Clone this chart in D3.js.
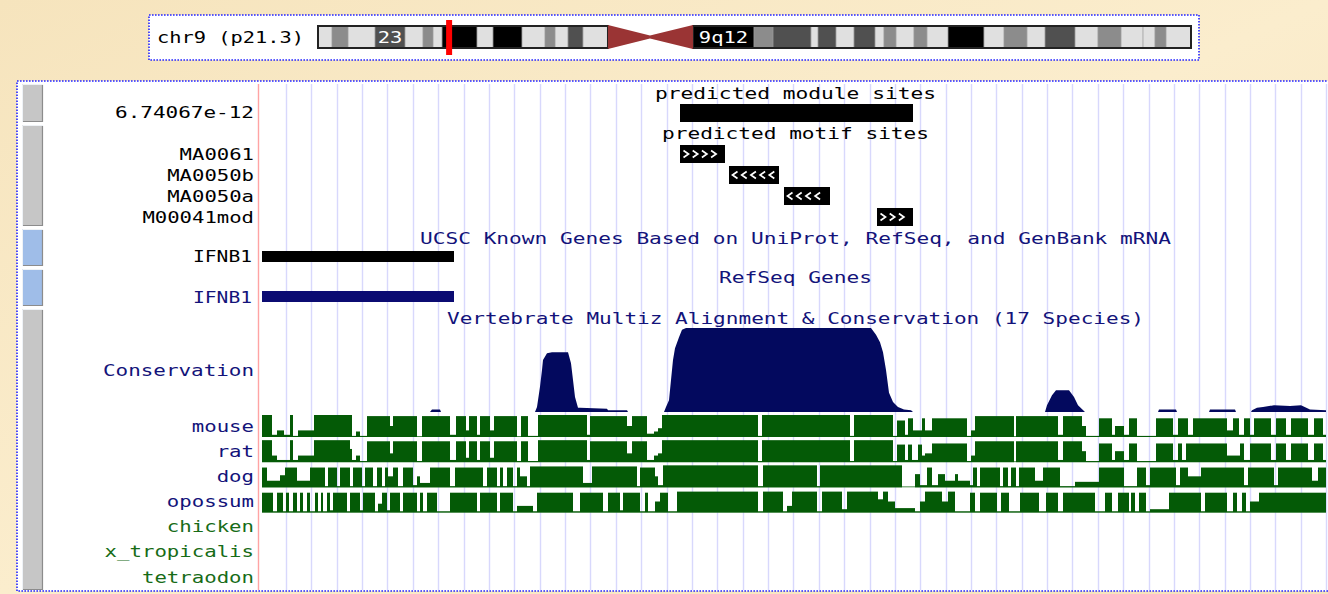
<!DOCTYPE html>
<html><head><meta charset="utf-8">
<script src="https://cdn.jsdelivr.net/npm/d3@7"></script>
<style>body{margin:0;background:#f8e8c6;} svg{display:block}</style>
</head><body><svg id="c" width="1328" height="594"></svg>
<script>
// ---------------- DATA ----------------
// region offsets in bp (0..1066) ; chromosome positions in Mb
const chromName = "chr9 (p21.3)";
const chromLengthMb = 140.29;
const markerMb = 21.07;
const bandStart = [0,2.25,4.82,9.16,13.98,16.87,18.48,19.93,25.55,28.12,32.78,36.48,38.09,40.17,42.58,
  60.26,70.06,73.12,79.22,80.35,83.24,86.13,89.51,90.95,92.88,95.77,97.86,101.24,107.02,110.24,113.93,116.83,121.65,125.34,129.04,132.57,134.50,136.27];
const bandEnd = [2.25,4.82,9.16,13.98,16.87,18.48,19.93,25.55,28.12,32.78,36.48,38.09,40.17,42.58,46.60,
  70.06,73.12,79.22,80.35,83.24,86.13,89.51,90.95,92.88,95.77,97.86,101.24,107.02,110.24,113.93,116.83,121.65,125.34,129.04,132.57,134.50,136.27,140.29];
const bandStain = ["gneg","gpos50","gneg","gpos75","gneg","gpos50","gneg","gpos100","gneg","gpos100","gneg","gpos50","gneg","gpos75","gneg",
  "gvar","gpos50","gpos75","gneg","gpos75","gneg","gpos75","gneg","gpos50","gneg","gpos50","gneg","gpos100","gneg","gpos50","gneg","gpos75","gneg","gpos50","gneg","gneg","gpos50","gneg"];
const bandLabel = ["","","","23","","","","","","","","","","","","9q12","","","","","","","","","","","","","","","","","","","","","",""];
const centromere = [46.60, 53.35, 60.26];

const moduleTitle = "predicted module sites";
const moduleScore = "6.74067e-12";
const moduleStart = [420];
const moduleEnd = [653];

const motifTitle = "predicted motif sites";
const motifNames = ["MA0061","MA0050b","MA0050a","M00041mod"];
const motifStart = [420,469,524,617];
const motifEnd = [465,519,570,653];
const motifStrand = ["+","-","-","+"];

const knownTitle = "UCSC Known Genes Based on UniProt, RefSeq, and GenBank mRNA";
const refseqTitle = "RefSeq Genes";
const geneName = "IFNB1";
const geneStart = 2, geneEnd = 194;

const consTitle = "Vertebrate Multiz Alignment & Conservation (17 Species)";
const consLabel = "Conservation";
const consPos = [0,170,172,180,181,275,277,280,282,283,287,292,308,311,313,315,318,320,347,348,367,368,
  404,406,409,411,413,415,419,422,426,611,616,620,623,626,629,633,638,644,651,653,
  785,787,792,796,809,814,818,825,898,899,916,917,949,950,975,976,991,992,997,1003,1014,1030,1041,1050,1066];
const consScore = [0,0,.03,.03,0,0,.06,.3,.5,.62,.7,.71,.71,.58,.38,.18,.05,.05,.04,.02,.02,0,
  0,.06,.14,.38,.62,.76,.89,.98,1,1,.92,.83,.71,.5,.23,.12,.06,.03,.02,0,
  0,.08,.2,.26,.26,.18,.08,0,0,.03,.03,0,0,.03,.03,0,0,.02,.05,.06,.08,.07,.08,.03,.02];

const speciesNames = ["mouse","rat","dog","opossum","chicken","x_tropicalis","tetraodon"];
const speciesGroup = ["mammal","mammal","mammal","mammal","other","other","other"];
// segments [start, end, fraction of track height]
const mouseAli = [[2,12,1],[12,17,.1],[17,24,.3],[24,30,.1],[30,33,1],[33,38,.05],[38,54,.3],[54,92,1],[92,96,.05],[96,100,.25],[100,107,.05],[107,130,.95],[130,133,.5],[133,157,.95],[157,162,0],[162,190,.95],[190,196,.1],[196,206,.95],[206,209,.3],[209,217,.95],[217,220,.1],[220,230,.95],[230,234,.3],[234,257,.95],[257,261,0],[261,268,.95],[268,278,.05],[278,327,1],[327,330,.1],[330,367,.95],[367,372,.5],[372,387,.95],[387,394,.15],[394,398,.25],[398,402,.4],[402,498,1],[498,502,.05],[502,590,1],[590,594,.05],[594,633,1],[633,637,.05],[637,645,.75],[645,648,.1],[648,653,.85],[653,662,.3],[662,665,.85],[665,672,.3],[672,707,.85],[707,711,.05],[711,715,.3],[715,754,.95],[754,756,0],[756,798,.95],[798,803,.1],[803,822,.95],[822,826,.5],[826,839,.05],[839,852,.85],[852,855,.1],[855,864,.5],[864,869,.1],[869,877,.85],[877,896,.05],[896,913,.85],[913,918,.1],[918,928,.85],[928,933,.1],[933,967,.85],[967,973,.3],[973,979,.85],[979,984,.1],[984,990,.85],[990,994,.1],[994,1011,.85],[1011,1016,.1],[1016,1026,.85],[1026,1031,.1],[1031,1048,.85],[1048,1054,.1],[1054,1063,.85],[1063,1066,.1]];
const ratAli = [[2,12,1],[12,17,.3],[17,24,.1],[24,30,.1],[30,33,1],[33,38,.1],[38,54,.3],[54,90,1],[90,92,.6],[92,96,.1],[96,100,.3],[100,107,.05],[107,130,.95],[130,133,.4],[133,157,.95],[157,162,.05],[162,190,.95],[190,196,.1],[196,206,.95],[206,209,.2],[209,217,.95],[217,220,.1],[220,230,.95],[230,234,.2],[234,257,.95],[257,261,.05],[261,268,.95],[268,278,.05],[278,327,1],[327,330,.1],[330,367,.95],[367,372,.4],[372,387,.95],[387,394,.1],[394,398,.3],[398,402,.4],[402,498,1],[498,502,.05],[502,590,1],[590,594,.05],[594,633,1],[633,637,.05],[637,645,.8],[645,648,.1],[648,652,.8],[652,658,.1],[658,662,.8],[662,665,.3],[665,672,.4],[672,707,.85],[707,711,.05],[711,715,.3],[715,754,.95],[754,756,0],[756,798,.95],[798,803,.1],[803,822,.95],[822,826,.5],[826,839,.05],[839,852,.85],[852,855,.1],[855,864,.5],[864,869,.1],[869,877,.85],[877,896,.05],[896,913,.85],[913,918,.1],[918,922,.85],[922,926,.1],[926,967,.85],[967,980,.3],[980,984,.85],[984,990,.1],[990,1011,.85],[1011,1016,.1],[1016,1026,.85],[1026,1031,.1],[1031,1048,.85],[1048,1054,.1],[1054,1063,.85],[1063,1066,.1]];
const dogAli = [[2,7,.9],[7,20,.3],[20,25,.55],[25,37,.9],[37,50,.3],[50,65,.9],[65,68,.05],[68,77,.9],[77,80,.05],[80,90,.9],[90,93,.05],[93,102,.9],[102,105,.05],[105,113,.9],[113,117,.05],[117,122,.9],[122,125,.05],[125,128,.9],[128,133,.5],[133,138,.9],[138,143,.05],[143,153,.9],[153,157,.1],[157,160,.5],[160,170,.2],[170,190,.9],[190,195,.05],[195,223,.9],[223,227,.05],[227,237,.9],[237,240,.05],[240,243,.9],[243,247,.05],[247,253,.9],[253,257,.05],[257,260,.9],[260,267,.5],[267,270,.05],[270,323,.95],[323,332,.2],[332,377,.95],[377,380,.05],[380,395,.9],[395,398,.5],[398,403,.1],[403,498,1],[498,503,.05],[503,557,1],[557,560,.05],[560,642,1],[642,655,0],[655,660,.6],[660,667,.1],[667,672,.9],[672,678,.1],[678,685,.6],[685,695,.3],[695,698,.6],[698,710,.3],[710,713,.1],[713,717,.9],[717,720,.05],[720,740,.9],[740,743,.05],[743,748,.9],[748,751,.05],[751,756,.9],[756,759,.05],[759,775,.9],[775,783,.3],[783,800,.9],[800,815,.05],[815,839,.25],[839,864,.9],[864,877,.05],[877,886,.9],[886,890,.1],[890,916,.9],[916,920,.1],[920,928,.9],[928,941,.5],[941,984,.9],[984,988,.1],[988,1014,.9],[1014,1018,.1],[1018,1052,.9],[1052,1058,.3],[1058,1066,.9]];
const opossumAli = [[2,13,.9],[13,17,.05],[17,23,.9],[23,26,.05],[26,29,.9],[29,33,.05],[33,37,.9],[37,40,.05],[40,43,.9],[43,47,.05],[47,50,.9],[50,55,.05],[55,58,.9],[58,61,.05],[61,63,.9],[63,67,.05],[67,70,.9],[70,73,.1],[73,87,.9],[87,90,.05],[90,100,.9],[100,103,.1],[103,115,.9],[115,118,.05],[118,122,.4],[122,127,.9],[127,130,.1],[130,140,.9],[140,143,.05],[143,157,.9],[157,160,.05],[160,163,.9],[163,167,.05],[167,177,.9],[177,190,.05],[190,217,.9],[217,220,.05],[220,237,.9],[237,240,.05],[240,253,.9],[253,257,.05],[257,273,.3],[273,277,.05],[277,313,.9],[313,320,.05],[320,343,.9],[343,348,.05],[348,360,.9],[360,363,.1],[363,380,.9],[380,385,.05],[385,388,.9],[388,395,.05],[395,400,.5],[400,408,.9],[408,417,.05],[417,498,.95],[498,503,.05],[503,523,.95],[523,527,.05],[527,532,.3],[532,557,.95],[557,562,.05],[562,582,.95],[582,587,.15],[587,618,.95],[618,623,.6],[623,628,.95],[628,635,.5],[635,655,.2],[655,660,.05],[660,665,.5],[665,682,.95],[682,688,.5],[688,695,.95],[695,710,.05],[710,715,.9],[715,720,.05],[720,737,.9],[737,741,.05],[741,749,.9],[749,760,.05],[760,779,.9],[779,786,.05],[786,798,.9],[798,803,.05],[803,835,.9],[835,845,.05],[845,852,.9],[852,858,.05],[858,869,.9],[869,871,.05],[871,875,.9],[875,879,.05],[879,886,.9],[886,890,.05],[890,909,.15],[909,941,.9],[941,945,.05],[945,967,.9],[967,973,.05],[973,977,.9],[977,982,.05],[982,986,.9],[986,990,.05],[990,999,.5],[999,1066,.9]];
const chickenAli = [], xtropAli = [], tetraodonAli = [];
const speciesAli = [mouseAli, ratAli, dogAli, opossumAli, chickenAli, xtropAli, tetraodonAli];

// ---------------- DRAW ----------------
const svg = d3.select("#c");
const FONT = "'DejaVu Sans Mono', monospace";
const NAVY = "#13137a", GREEN = "#045a06", LGREEN = "#176c17";
const stainColor = {gneg:"#e0e0e0", gpos50:"#8c8c8c", gpos75:"#505050", gpos100:"#000000", gvar:"#000000"};

function txt(s, x0, x1, base, color, parent) {
  return (parent||svg).append("text").attr("x", x0).attr("y", base)
    .attr("textLength", x1 - x0).attr("lengthAdjust", "spacingAndGlyphs")
    .attr("fill", color).style("font-family", FONT).style("font-size", "16px").text(s);
}

// parchment background
const defs = svg.append("defs");
const lg = defs.append("linearGradient").attr("id","bg").attr("x1",0).attr("y1",0).attr("x2",1).attr("y2",1);
lg.append("stop").attr("offset","0%").attr("stop-color","#f6e4bd");
lg.append("stop").attr("offset","50%").attr("stop-color","#fbedcd");
lg.append("stop").attr("offset","100%").attr("stop-color","#f5e2bc");
svg.append("rect").attr("width",1328).attr("height",594).attr("fill","url(#bg)");

// ideogram box
svg.append("rect").attr("x",149).attr("y",15).attr("width",1050).attr("height",45)
  .attr("fill","#fff").attr("stroke","#2424ff").attr("stroke-width",1.6).attr("stroke-dasharray","1.6,1.4");
txt(chromName, 157, 304, 43, "#000");

const ix = d3.scaleLinear().domain([0, chromLengthMb]).range([318, 1191]);
const iTop = 26, iBot = 48;
const bands = bandStart.map((s,i)=>({s, e:bandEnd[i], stain:bandStain[i], label:bandLabel[i]}));
svg.append("g").selectAll("rect").data(bands).join("rect")
  .attr("x", d=>ix(d.s)).attr("y", iTop).attr("width", d=>ix(d.e)-ix(d.s)).attr("height", iBot-iTop)
  .attr("fill", d=>stainColor[d.stain]);
svg.append("g").selectAll("line").data(bands.slice(1)).join("line")
  .attr("x1", d=>ix(d.s)).attr("x2", d=>ix(d.s)).attr("y1", iTop).attr("y2", iBot)
  .attr("stroke","#9a9a9a").attr("stroke-width",0.8);
bands.filter(d=>d.label).forEach(d=>{
  const c = (ix(d.s)+ix(d.e))/2, w = d.label.length*12.3;
  txt(d.label, c - w/2, c + w/2, 43, "#fff");
});
// arms outline
svg.append("rect").attr("x", ix(0)).attr("y", iTop).attr("width", ix(centromere[0])-ix(0)).attr("height", iBot-iTop)
  .attr("fill","none").attr("stroke","#222").attr("stroke-width",2);
svg.append("rect").attr("x", ix(centromere[2])).attr("y", iTop).attr("width", ix(chromLengthMb)-ix(centromere[2])).attr("height", iBot-iTop)
  .attr("fill","none").attr("stroke","#222").attr("stroke-width",2);
// centromere
const cm = (iTop+iBot)/2;
svg.append("path").attr("fill","#9a3434")
  .attr("d", `M${ix(centromere[0])},${iTop-1} L${ix(centromere[1])},${cm-1.5} L${ix(centromere[2])},${iTop-1} L${ix(centromere[2])},${iBot+1} L${ix(centromere[1])},${cm+1.5} L${ix(centromere[0])},${iBot+1} Z`);
// position marker
svg.append("rect").attr("x", ix(markerMb)-3).attr("y", 20).attr("width", 6).attr("height", 35).attr("fill","#ff0000");

// main panel
svg.append("rect").attr("x",17).attr("y",81).attr("width",1320).attr("height",510)
  .attr("fill","#fff").attr("stroke","#2424ff").attr("stroke-width",1.6).attr("stroke-dasharray","1.6,1.4");

// left buttons
const btnTop = [84,125,229,269,309], btnBot = [122,226,266,306,590];
const btnCol = ["#c6c6c6","#c6c6c6","#9fbde8","#9fbde8","#c6c6c6"];
btnTop.forEach((t,i)=>{
  svg.append("rect").attr("x",22).attr("y",t).attr("width",21).attr("height",btnBot[i]-t).attr("fill",btnCol[i]);
  svg.append("path").attr("d",`M22.5,${btnBot[i]} V${t+0.5} H43`).attr("fill","none").attr("stroke","#eef2f6").attr("stroke-width",1);
  svg.append("path").attr("d",`M42.5,${t+1} V${btnBot[i]-0.5} H23`).attr("fill","none").attr("stroke","#8c8c8c").attr("stroke-width",1.2);
});

const xs = d3.scaleLinear().domain([0,1066]).range([260,1326]);

// grid
svg.append("g").selectAll("line").data(d3.range(26, 1067, 25.37)).join("line")
  .attr("x1", d=>Math.round(xs(d))+0.5).attr("x2", d=>Math.round(xs(d))+0.5).attr("y1",84).attr("y2",590)
  .attr("stroke","#d8d8fc").attr("stroke-width",1.4);
svg.append("line").attr("x1", xs(-2)+0.5).attr("x2", xs(-2)+0.5).attr("y1",84).attr("y2",590)
  .attr("stroke","#ffa4a4").attr("stroke-width",1.4);

// module track
txt(moduleTitle, 655, 936, 99, "#000");
txt(moduleScore, 115, 254, 118, "#000");
svg.append("g").selectAll("rect").data(moduleStart).join("rect")
  .attr("x", (d)=>xs(d)).attr("y",104).attr("width",(d,i)=>xs(moduleEnd[i])-xs(d)).attr("height",18).attr("fill","#000");

// motif track
txt(motifTitle, 662, 929, 139, "#000");
const my = d3.scaleBand().domain(motifNames).range([145, 226]).paddingInner(1/7);
motifNames.forEach((n,i)=>{
  txt(n, 254 - n.length*12.4, 254, my(n)+my.bandwidth()/2+6, "#000");
  const x0 = xs(motifStart[i]), x1 = xs(motifEnd[i]), y0 = my(n), h = my.bandwidth();
  svg.append("rect").attr("x",x0).attr("y",y0).attr("width",x1-x0).attr("height",h).attr("fill","#000");
  const yc = y0 + h/2, nc = Math.floor((x1-x0-3)/9.2);
  for (let k=0;k<nc;k++){
    const cx = x0 + 3.5 + k*9.2;
    const d = motifStrand[i]==="+" ? `M${cx},${yc-3.5} L${cx+5},${yc} L${cx},${yc+3.5}` : `M${cx+5},${yc-3.5} L${cx},${yc} L${cx+5},${yc+3.5}`;
    svg.append("path").attr("d",d).attr("fill","none").attr("stroke","#fff").attr("stroke-width",1.7);
  }
});

// genes
txt(knownTitle, 420, 1171, 244, NAVY);
txt(geneName, 193, 252, 262, "#000");
svg.append("rect").attr("x", xs(geneStart)).attr("y",251).attr("width", xs(geneEnd)-xs(geneStart)).attr("height",11).attr("fill","#000");
txt(refseqTitle, 719, 872, 283, NAVY);
txt(geneName, 193, 252, 303, NAVY);
svg.append("rect").attr("x", xs(geneStart)).attr("y",291).attr("width", xs(geneEnd)-xs(geneStart)).attr("height",11).attr("fill","#0b0b72");

// conservation
txt(consTitle, 447, 1144, 324, NAVY);
txt(consLabel, 103, 254, 376, NAVY);
const cy = d3.scaleLinear().domain([0,1]).range([412, 328]);
const consData = consPos.map((p,i)=>[p, consScore[i]]);
svg.append("path").datum(consData)
  .attr("d", d3.area().x(d=>xs(d[0])).y0(cy(0)).y1(d=>cy(d[1])))
  .attr("fill","#03095e");

// species alignment tracks
const sy = d3.scalePoint().domain(speciesNames).range([426, 577]);
const trackH = 22;
speciesNames.forEach((n,i)=>{
  const col = speciesGroup[i]==="mammal" ? NAVY : LGREEN;
  txt(n, 254 - n.length*12.45, 254, sy(n)+5.5, col);
  const segs = speciesAli[i];
  if (!segs.length) return;
  const bottom = sy(n) + 11;
  svg.append("line").attr("x1", xs(2)).attr("x2", xs(1066)).attr("y1", bottom-0.5).attr("y2", bottom-0.5)
    .attr("stroke", "#4a8a4a").attr("stroke-width", 1);
  svg.append("g").selectAll("rect").data(segs.filter(s=>s[2]>0)).join("rect")
    .attr("x", s=>xs(s[0])).attr("width", s=>xs(s[1])-xs(s[0]))
    .attr("y", s=>bottom - Math.max(1, s[2]*trackH)).attr("height", s=>Math.max(1, s[2]*trackH))
    .attr("fill", GREEN);
});
</script></body></html>
